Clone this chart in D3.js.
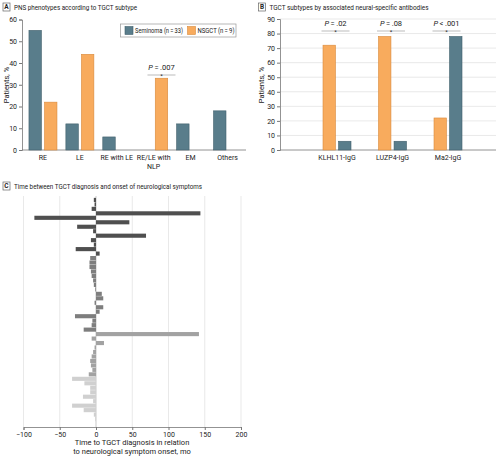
<!DOCTYPE html>
<html>
<head>
<meta charset="utf-8">
<script src="https://cdn.jsdelivr.net/npm/d3@7"></script>
<style>
  body { margin: 0; background: #fff; }
  svg { display: block; }
  text { font-family: "Liberation Sans Narrow", "Arial Narrow", "Roboto", sans-serif; fill: #222; }
</style>
</head>
<body>
<div id="chart"></div>
<script>
// Panel A data
const phenoCats = ["RE", "LE", "RE with LE", "RE/LE with NLP", "EM", "Others"];
const seminomaPheno = [55, 12, 6, 0, 12, 18];
const nsgctPheno = [22, 44, 0, 33, 0, 0];

// Panel B data
const abCats = ["KLHL11-IgG", "LUZP4-IgG", "Ma2-IgG"];
const nsgctAb = [72, 78, 22];
const seminomaAb = [6, 6, 78];
const abPvals = ["=\u2009.02", "=\u2009.08", "<\u2009.001"];

// Panel C data (months, one per patient, top to bottom) and shade group
const timeValues = [
  -3, -2, -6, 144, -85, 46, -26, -4, 69, -7,
  -3, -28, 5, -8, -9, -9, -7, -6, -4, -3,
  -1, 8, 10, -2, 10, 5, -29, -5, -6, -17,
  142, -6, 11, -2, -4, -6, -8, -7, -5, -10,
  -33, -16, -8, -8, -18, -4, -33, -17, -3, -1
];
const timeGroups = [
  0, 0, 0, 0, 0, 0, 0, 0, 0, 0,
  0, 0, 0, 1, 1, 1, 1, 1, 1, 1,
  1, 1, 1, 1, 1, 1, 1, 1, 1, 1,
  2, 2, 2, 2, 2, 2, 2, 2, 2, 2,
  3, 3, 3, 3, 3, 3, 3, 3, 3, 3
];

const colSem = "#597d8b", colNsg = "#f8ab5d";
const strokeSem = "#41606c", strokeNsg = "#d98a3c";
const grayShades = ["#4f4f4f", "#7e7e7e", "#a2a2a2", "#d0d0d0"];

const svg = d3.select("#chart").append("svg")
  .attr("width", 500).attr("height", 457);

function panelTitle(x, y, letter, title, len) {
  svg.append("rect").attr("x", x).attr("y", y).attr("width", 7).attr("height", 8)
    .attr("fill", "#fff").attr("stroke", "#666").attr("stroke-width", 0.7);
  svg.append("text").attr("x", x + 3.5).attr("y", y + 6.3).attr("text-anchor", "middle")
    .attr("font-size", 6.5).attr("font-weight", "bold").text(letter);
  svg.append("text").attr("x", x + 11).attr("y", y + 7).attr("font-size", 8)
    .attr("textLength", len).attr("lengthAdjust", "spacingAndGlyphs").text(title);
}

function styleAxis(g) {
  g.selectAll("path.domain").attr("stroke", "#777").attr("stroke-width", 0.8);
  g.selectAll(".tick line").attr("stroke", "#777");
  g.selectAll(".tick text").attr("font-size", 7).attr("fill", "#333")
    .style("font-family", "\"Liberation Sans Narrow\", \"Arial Narrow\", Roboto, sans-serif");
}

function pAnnot(cx, y, txt) {
  svg.append("line").attr("x1", cx - 14).attr("x2", cx + 14).attr("y1", y).attr("y2", y)
    .attr("stroke", "#aaa").attr("stroke-width", 0.8);
  svg.append("text").attr("x", cx).attr("y", y + 2.5).attr("text-anchor", "middle")
    .attr("font-size", 6).text("*");
  const t = svg.append("text").attr("x", cx).attr("y", y - 5).attr("text-anchor", "middle")
    .attr("font-size", 7.5);
  t.append("tspan").attr("font-style", "italic").text("P");
  t.append("tspan").text("\u2009" + txt);
}

// ---------- Panel A ----------
panelTitle(3, 3, "A", "PNS phenotypes according to TGCT subtype", 123);

const xA = d3.scaleBand().domain(phenoCats).range([24.5, 246]);
const subA = d3.scaleBand().domain(["Seminoma", "NSGCT"])
  .range([(xA.step() - 28) / 2, (xA.step() + 28) / 2]).paddingInner(0.2);
const yA = d3.scaleLinear().domain([0, 60]).range([150, 19.5]);

const gyA = svg.append("g").attr("transform", "translate(22,0)")
  .call(d3.axisLeft(yA).tickValues(d3.range(0, 61, 10)).tickSize(3).tickPadding(2));
styleAxis(gyA);
svg.append("line").attr("x1", 22).attr("x2", 246).attr("y1", 150).attr("y2", 150)
  .attr("stroke", "#777").attr("stroke-width", 0.8);

const dataA = [];
phenoCats.forEach((c, i) => {
  dataA.push({ c, s: "Seminoma", v: seminomaPheno[i] });
  dataA.push({ c, s: "NSGCT", v: nsgctPheno[i] });
});
svg.append("g").selectAll("rect").data(dataA.filter(d => d.v > 0)).join("rect")
  .attr("x", d => xA(d.c) + subA(d.s))
  .attr("width", subA.bandwidth())
  .attr("y", d => yA(d.v))
  .attr("height", d => yA(0) - yA(d.v))
  .attr("fill", d => d.s === "Seminoma" ? colSem : colNsg)
  .attr("stroke", d => d.s === "Seminoma" ? strokeSem : strokeNsg)
  .attr("stroke-width", 0.6);

phenoCats.forEach(c => {
  const cx = xA(c) + xA.bandwidth() / 2;
  const parts = c === "RE/LE with NLP" ? ["RE/LE with", "NLP"] : [c];
  parts.forEach((p, k) => {
    svg.append("text").attr("x", cx).attr("y", 160 + k * 8.5).attr("text-anchor", "middle")
      .attr("font-size", 7).text(p);
  });
});

svg.append("text").attr("transform", "translate(8.5,85) rotate(-90)")
  .attr("text-anchor", "middle").attr("font-size", 7.5).text("Patients, %");

// P value for RE/LE with NLP
pAnnot(xA("RE/LE with NLP") + subA("NSGCT") + subA.bandwidth() / 2, 75, "=\u2009.007");

// legend
const lg = svg.append("g").attr("transform", "translate(120.5,24)");
lg.append("rect").attr("width", 115.5).attr("height", 13)
  .attr("fill", "#fff").attr("stroke", "#999").attr("stroke-width", 0.7);
[["Seminoma (n\u2009=\u200933)", colSem, strokeSem, 4.5, 48], ["NSGCT (n\u2009=\u20099)", colNsg, strokeNsg, 67, 37]].forEach(([t, f, s, x, len]) => {
  lg.append("rect").attr("x", x).attr("y", 2.5).attr("width", 8).attr("height", 8)
    .attr("fill", f).attr("stroke", s).attr("stroke-width", 0.6);
  lg.append("text").attr("x", x + 10).attr("y", 9.3).attr("font-size", 7.2)
    .attr("textLength", len).attr("lengthAdjust", "spacingAndGlyphs").text(t);
});

// ---------- Panel B ----------
panelTitle(258.5, 3, "B", "TGCT subtypes by associated neural-specific antibodies", 159);

const xB = d3.scaleBand().domain(abCats).range([309.25, 475.75]);
const subB = d3.scaleBand().domain(["NSGCT", "Seminoma"])
  .range([(xB.step() - 28) / 2, (xB.step() + 28) / 2]).paddingInner(0.2);
const yB = d3.scaleLinear().domain([0, 90]).range([150, 19]);

svg.append("g").selectAll("line").data(d3.range(10, 91, 10)).join("line")
  .attr("x1", 280).attr("x2", 496).attr("y1", d => yB(d)).attr("y2", d => yB(d))
  .attr("stroke", "#e3e3e3").attr("stroke-width", 0.8);

const gyB = svg.append("g").attr("transform", "translate(280,0)")
  .call(d3.axisLeft(yB).tickValues(d3.range(0, 91, 10)).tickSize(3).tickPadding(2));
styleAxis(gyB);
svg.append("line").attr("x1", 280).attr("x2", 496).attr("y1", 150).attr("y2", 150)
  .attr("stroke", "#777").attr("stroke-width", 0.8);

const dataB = [];
abCats.forEach((c, i) => {
  dataB.push({ c, s: "NSGCT", v: nsgctAb[i] });
  dataB.push({ c, s: "Seminoma", v: seminomaAb[i] });
});
svg.append("g").selectAll("rect").data(dataB).join("rect")
  .attr("x", d => xB(d.c) + subB(d.s))
  .attr("width", subB.bandwidth())
  .attr("y", d => yB(d.v))
  .attr("height", d => yB(0) - yB(d.v))
  .attr("fill", d => d.s === "Seminoma" ? colSem : colNsg)
  .attr("stroke", d => d.s === "Seminoma" ? strokeSem : strokeNsg)
  .attr("stroke-width", 0.6);

abCats.forEach((c, i) => {
  const cx = xB(c) + xB.bandwidth() / 2;
  svg.append("text").attr("x", cx).attr("y", 160).attr("text-anchor", "middle")
    .attr("font-size", 7).text(c);
  pAnnot(cx - 1.5, 31, abPvals[i]);
});

svg.append("text").attr("transform", "translate(264,85) rotate(-90)")
  .attr("text-anchor", "middle").attr("font-size", 7.5).text("Patients, %");

// ---------- Panel C ----------
panelTitle(3, 182, "C", "Time between TGCT diagnosis and onset of neurological symptoms", 188);

const xC = d3.scaleLinear().domain([-100, 200]).range([23.5, 241]);
const yC = d3.scaleBand().domain(d3.range(timeValues.length)).range([197.5, 421.5]).padding(0.08);

svg.append("g").selectAll("line").data(xC.ticks(6)).join("line")
  .attr("x1", d => xC(d)).attr("x2", d => xC(d)).attr("y1", 196).attr("y2", 427)
  .attr("stroke", d => d === 0 ? "#bbb" : "#e3e3e3").attr("stroke-width", 0.8);

svg.append("g").selectAll("rect").data(timeValues).join("rect")
  .attr("x", d => xC(Math.min(0, d)))
  .attr("width", d => Math.abs(xC(d) - xC(0)))
  .attr("y", (d, i) => yC(i))
  .attr("height", yC.bandwidth())
  .attr("fill", (d, i) => grayShades[timeGroups[i]]);

const gxC = svg.append("g").attr("transform", "translate(0,427)")
  .call(d3.axisBottom(xC).ticks(6).tickSize(3).tickPadding(2));
styleAxis(gxC);

svg.append("text").attr("x", 132).attr("y", 445).attr("text-anchor", "middle")
  .attr("font-size", 7.5).text("Time to TGCT diagnosis in relation");
svg.append("text").attr("x", 132).attr("y", 454).attr("text-anchor", "middle")
  .attr("font-size", 7.5).text("to neurological symptom onset, mo");
</script>
</body>
</html>
